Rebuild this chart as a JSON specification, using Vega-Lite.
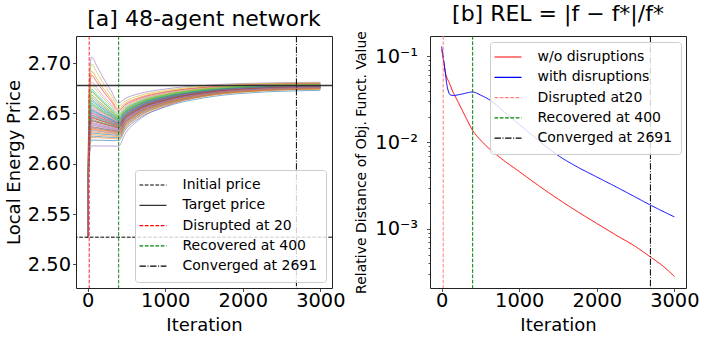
{
"$schema":"https://vega.github.io/schema/vega-lite/v6.json",
"padding":{"left":4,"top":2,"right":5,"bottom":2},
"bounds":"flush",
"spacing":98,
"config":{
 "font":"DejaVu Sans",
 "view":{"stroke":"#222","strokeWidth":1},
 "axis":{"domain":false,"grid":false,"tickColor":"#222","tickSize":3.5,"tickWidth":0.8,"labelColor":"black","labelFont":"DejaVu Sans","labelFontSize":19.4,"labelPadding":3,"titleFont":"DejaVu Sans","titleFontSize":18,"titleFontWeight":"normal","titleColor":"black"},
 "title":{"font":"DejaVu Sans","fontSize":22,"fontWeight":"normal","color":"black","offset":5},
 "legend":{"title":null,"orient":"none","symbolType":"M-2.1,0H3.3","symbolSize":100,"symbolStrokeWidth":1.2,"labelFont":"DejaVu Sans","labelFontSize":14,"labelColor":"black","labelOffset":25.5,"padding":8,"rowPadding":6.3,"fillColor":"rgba(255,255,255,0.8)","strokeColor":"#cccccc","cornerRadius":3}
},
"resolve":{"scale":{"color":"independent","strokeDash":"independent","x":"independent","y":"independent"}},
"hconcat":[
{
 "width":256,"height":252,
 "title":"[a] 48-agent network",
 "resolve":{"scale":{"color":"independent","strokeDash":"independent"}},
 "layer":[
  {
   "data":{"values":[
{"a":1,"t":0,"p":2.527},{"a":1,"t":20,"p":2.609},{"a":1,"t":50,"p":2.6235},{"a":1,"t":120,"p":2.6234},{"a":1,"t":200,"p":2.6233},{"a":1,"t":300,"p":2.6231},{"a":1,"t":400,"p":2.623},{"a":1,"t":480,"p":2.633},{"a":1,"t":650,"p":2.6445},{"a":1,"t":1000,"p":2.6565},{"a":1,"t":1500,"p":2.6655},{"a":1,"t":2000,"p":2.67},{"a":1,"t":3000,"p":2.673},
{"a":2,"t":0,"p":2.527},{"a":2,"t":20,"p":2.6673},{"a":2,"t":50,"p":2.692},{"a":2,"t":120,"p":2.6845},{"a":2,"t":200,"p":2.6752},{"a":2,"t":300,"p":2.6648},{"a":2,"t":400,"p":2.6547},{"a":2,"t":480,"p":2.6598},{"a":2,"t":650,"p":2.6656},{"a":2,"t":1000,"p":2.6717},{"a":2,"t":1500,"p":2.6762},{"a":2,"t":2000,"p":2.6785},{"a":2,"t":3000,"p":2.68},
{"a":3,"t":0,"p":2.527},{"a":3,"t":20,"p":2.6503},{"a":3,"t":50,"p":2.672},{"a":3,"t":120,"p":2.6671},{"a":3,"t":200,"p":2.661},{"a":3,"t":300,"p":2.6541},{"a":3,"t":400,"p":2.6475},{"a":3,"t":480,"p":2.6538},{"a":3,"t":650,"p":2.661},{"a":3,"t":1000,"p":2.6685},{"a":3,"t":1500,"p":2.6741},{"a":3,"t":2000,"p":2.6769},{"a":3,"t":3000,"p":2.6788},
{"a":4,"t":0,"p":2.527},{"a":4,"t":20,"p":2.6639},{"a":4,"t":50,"p":2.688},{"a":4,"t":120,"p":2.681},{"a":4,"t":200,"p":2.6723},{"a":4,"t":300,"p":2.6625},{"a":4,"t":400,"p":2.653},{"a":4,"t":480,"p":2.6584},{"a":4,"t":650,"p":2.6645},{"a":4,"t":1000,"p":2.671},{"a":4,"t":1500,"p":2.6758},{"a":4,"t":2000,"p":2.6782},{"a":4,"t":3000,"p":2.6798},
{"a":5,"t":0,"p":2.527},{"a":5,"t":20,"p":2.6792},{"a":5,"t":50,"p":2.706},{"a":5,"t":120,"p":2.6969},{"a":5,"t":200,"p":2.6856},{"a":5,"t":300,"p":2.6729},{"a":5,"t":400,"p":2.6606},{"a":5,"t":480,"p":2.6647},{"a":5,"t":650,"p":2.6694},{"a":5,"t":1000,"p":2.6743},{"a":5,"t":1500,"p":2.6779},{"a":5,"t":2000,"p":2.6798},{"a":5,"t":3000,"p":2.681},
{"a":6,"t":0,"p":2.527},{"a":6,"t":20,"p":2.6299},{"a":6,"t":50,"p":2.648},{"a":6,"t":120,"p":2.6462},{"a":6,"t":200,"p":2.644},{"a":6,"t":300,"p":2.6414},{"a":6,"t":400,"p":2.639},{"a":6,"t":480,"p":2.6466},{"a":6,"t":650,"p":2.6553},{"a":6,"t":1000,"p":2.6645},{"a":6,"t":1500,"p":2.6713},{"a":6,"t":2000,"p":2.6747},{"a":6,"t":3000,"p":2.677},
{"a":7,"t":0,"p":2.527},{"a":7,"t":20,"p":2.6452},{"a":7,"t":50,"p":2.666},{"a":7,"t":120,"p":2.6619},{"a":7,"t":200,"p":2.6568},{"a":7,"t":300,"p":2.651},{"a":7,"t":400,"p":2.6455},{"a":7,"t":480,"p":2.652},{"a":7,"t":650,"p":2.6596},{"a":7,"t":1000,"p":2.6674},{"a":7,"t":1500,"p":2.6733},{"a":7,"t":2000,"p":2.6762},{"a":7,"t":3000,"p":2.6782},
{"a":8,"t":0,"p":2.527},{"a":8,"t":20,"p":2.6231},{"a":8,"t":50,"p":2.64},{"a":8,"t":120,"p":2.6388},{"a":8,"t":200,"p":2.6373},{"a":8,"t":300,"p":2.6356},{"a":8,"t":400,"p":2.634},{"a":8,"t":480,"p":2.6424},{"a":8,"t":650,"p":2.6521},{"a":8,"t":1000,"p":2.6621},{"a":8,"t":1500,"p":2.6697},{"a":8,"t":2000,"p":2.6735},{"a":8,"t":3000,"p":2.676},
{"a":9,"t":0,"p":2.527},{"a":9,"t":20,"p":2.6732},{"a":9,"t":50,"p":2.699},{"a":9,"t":120,"p":2.6907},{"a":9,"t":200,"p":2.6802},{"a":9,"t":300,"p":2.6686},{"a":9,"t":400,"p":2.6573},{"a":9,"t":480,"p":2.6619},{"a":9,"t":650,"p":2.6673},{"a":9,"t":1000,"p":2.6728},{"a":9,"t":1500,"p":2.677},{"a":9,"t":2000,"p":2.6791},{"a":9,"t":3000,"p":2.6805},
{"a":10,"t":0,"p":2.527},{"a":10,"t":20,"p":2.652},{"a":10,"t":50,"p":2.674},{"a":10,"t":120,"p":2.6689},{"a":10,"t":200,"p":2.6626},{"a":10,"t":300,"p":2.6555},{"a":10,"t":400,"p":2.6487},{"a":10,"t":480,"p":2.6548},{"a":10,"t":650,"p":2.6617},{"a":10,"t":1000,"p":2.669},{"a":10,"t":1500,"p":2.6745},{"a":10,"t":2000,"p":2.6772},{"a":10,"t":3000,"p":2.679},
{"a":11,"t":0,"p":2.527},{"a":11,"t":20,"p":2.6418},{"a":11,"t":50,"p":2.662},{"a":11,"t":120,"p":2.6585},{"a":11,"t":200,"p":2.6542},{"a":11,"t":300,"p":2.6494},{"a":11,"t":400,"p":2.6447},{"a":11,"t":480,"p":2.6514},{"a":11,"t":650,"p":2.659},{"a":11,"t":1000,"p":2.667},{"a":11,"t":1500,"p":2.673},{"a":11,"t":2000,"p":2.676},{"a":11,"t":3000,"p":2.678},
{"a":12,"t":0,"p":2.527},{"a":12,"t":20,"p":2.6161},{"a":12,"t":50,"p":2.6318},{"a":12,"t":120,"p":2.6312},{"a":12,"t":200,"p":2.6305},{"a":12,"t":300,"p":2.6298},{"a":12,"t":400,"p":2.629},{"a":12,"t":480,"p":2.6382},{"a":12,"t":650,"p":2.6487},{"a":12,"t":1000,"p":2.6597},{"a":12,"t":1500,"p":2.6679},{"a":12,"t":2000,"p":2.6721},{"a":12,"t":3000,"p":2.6748},
{"a":13,"t":0,"p":2.527},{"a":13,"t":20,"p":2.6401},{"a":13,"t":50,"p":2.66},{"a":13,"t":120,"p":2.6568},{"a":13,"t":200,"p":2.6528},{"a":13,"t":300,"p":2.6483},{"a":13,"t":400,"p":2.644},{"a":13,"t":480,"p":2.6508},{"a":13,"t":650,"p":2.6586},{"a":13,"t":1000,"p":2.6667},{"a":13,"t":1500,"p":2.6728},{"a":13,"t":2000,"p":2.6759},{"a":13,"t":3000,"p":2.6779},
{"a":14,"t":0,"p":2.527},{"a":14,"t":20,"p":2.6277},{"a":14,"t":50,"p":2.6455},{"a":14,"t":120,"p":2.6439},{"a":14,"t":200,"p":2.6418},{"a":14,"t":300,"p":2.6395},{"a":14,"t":400,"p":2.6373},{"a":14,"t":480,"p":2.6452},{"a":14,"t":650,"p":2.6542},{"a":14,"t":1000,"p":2.6636},{"a":14,"t":1500,"p":2.6707},{"a":14,"t":2000,"p":2.6742},{"a":14,"t":3000,"p":2.6766},
{"a":15,"t":0,"p":2.527},{"a":15,"t":20,"p":2.6042},{"a":15,"t":50,"p":2.6178},{"a":15,"t":120,"p":2.6177},{"a":15,"t":200,"p":2.6177},{"a":15,"t":300,"p":2.6176},{"a":15,"t":400,"p":2.6175},{"a":15,"t":480,"p":2.6293},{"a":15,"t":650,"p":2.6429},{"a":15,"t":1000,"p":2.657},{"a":15,"t":1500,"p":2.6677},{"a":15,"t":2000,"p":2.673},{"a":15,"t":3000,"p":2.6765},
{"a":16,"t":0,"p":2.527},{"a":16,"t":20,"p":2.635},{"a":16,"t":50,"p":2.654},{"a":16,"t":120,"p":2.6515},{"a":16,"t":200,"p":2.6484},{"a":16,"t":300,"p":2.6449},{"a":16,"t":400,"p":2.6415},{"a":16,"t":480,"p":2.6487},{"a":16,"t":650,"p":2.6569},{"a":16,"t":1000,"p":2.6656},{"a":16,"t":1500,"p":2.672},{"a":16,"t":2000,"p":2.6753},{"a":16,"t":3000,"p":2.6774},
{"a":17,"t":0,"p":2.527},{"a":17,"t":20,"p":2.6579},{"a":17,"t":50,"p":2.681},{"a":17,"t":120,"p":2.6751},{"a":17,"t":200,"p":2.6677},{"a":17,"t":300,"p":2.6594},{"a":17,"t":400,"p":2.6514},{"a":17,"t":480,"p":2.657},{"a":17,"t":650,"p":2.6635},{"a":17,"t":1000,"p":2.6702},{"a":17,"t":1500,"p":2.6753},{"a":17,"t":2000,"p":2.6778},{"a":17,"t":3000,"p":2.6795},
{"a":18,"t":0,"p":2.527},{"a":18,"t":20,"p":2.6375},{"a":18,"t":50,"p":2.657},{"a":18,"t":120,"p":2.6542},{"a":18,"t":200,"p":2.6508},{"a":18,"t":300,"p":2.6469},{"a":18,"t":400,"p":2.6431},{"a":18,"t":480,"p":2.65},{"a":18,"t":650,"p":2.658},{"a":18,"t":1000,"p":2.6663},{"a":18,"t":1500,"p":2.6725},{"a":18,"t":2000,"p":2.6756},{"a":18,"t":3000,"p":2.6777},
{"a":19,"t":0,"p":2.527},{"a":19,"t":20,"p":2.6554},{"a":19,"t":50,"p":2.678},{"a":19,"t":120,"p":2.6724},{"a":19,"t":200,"p":2.6654},{"a":19,"t":300,"p":2.6576},{"a":19,"t":400,"p":2.65},{"a":19,"t":480,"p":2.6558},{"a":19,"t":650,"p":2.6626},{"a":19,"t":1000,"p":2.6696},{"a":19,"t":1500,"p":2.6748},{"a":19,"t":2000,"p":2.6775},{"a":19,"t":3000,"p":2.6792},
{"a":20,"t":0,"p":2.527},{"a":20,"t":20,"p":2.6333},{"a":20,"t":50,"p":2.652},{"a":20,"t":120,"p":2.6497},{"a":20,"t":200,"p":2.6469},{"a":20,"t":300,"p":2.6437},{"a":20,"t":400,"p":2.6406},{"a":20,"t":480,"p":2.6479},{"a":20,"t":650,"p":2.6563},{"a":20,"t":1000,"p":2.6651},{"a":20,"t":1500,"p":2.6717},{"a":20,"t":2000,"p":2.675},{"a":20,"t":3000,"p":2.6772},
{"a":21,"t":0,"p":2.527},{"a":21,"t":20,"p":2.6124},{"a":21,"t":50,"p":2.6275},{"a":21,"t":120,"p":2.6272},{"a":21,"t":200,"p":2.6267},{"a":21,"t":300,"p":2.6263},{"a":21,"t":400,"p":2.6258},{"a":21,"t":480,"p":2.6355},{"a":21,"t":650,"p":2.6467},{"a":21,"t":1000,"p":2.6584},{"a":21,"t":1500,"p":2.6671},{"a":21,"t":2000,"p":2.6715},{"a":21,"t":3000,"p":2.6744},
{"a":22,"t":0,"p":2.527},{"a":22,"t":20,"p":2.6113},{"a":22,"t":50,"p":2.6262},{"a":22,"t":120,"p":2.6259},{"a":22,"t":200,"p":2.6256},{"a":22,"t":300,"p":2.6252},{"a":22,"t":400,"p":2.6248},{"a":22,"t":480,"p":2.6347},{"a":22,"t":650,"p":2.646},{"a":22,"t":1000,"p":2.6579},{"a":22,"t":1500,"p":2.6668},{"a":22,"t":2000,"p":2.6712},{"a":22,"t":3000,"p":2.6742},
{"a":23,"t":0,"p":2.527},{"a":23,"t":20,"p":2.6469},{"a":23,"t":50,"p":2.668},{"a":23,"t":120,"p":2.6637},{"a":23,"t":200,"p":2.6583},{"a":23,"t":300,"p":2.6522},{"a":23,"t":400,"p":2.6464},{"a":23,"t":480,"p":2.6528},{"a":23,"t":650,"p":2.6602},{"a":23,"t":1000,"p":2.6679},{"a":23,"t":1500,"p":2.6737},{"a":23,"t":2000,"p":2.6766},{"a":23,"t":3000,"p":2.6785},
{"a":24,"t":0,"p":2.527},{"a":24,"t":20,"p":2.6316},{"a":24,"t":50,"p":2.65},{"a":24,"t":120,"p":2.6479},{"a":24,"t":200,"p":2.6454},{"a":24,"t":300,"p":2.6425},{"a":24,"t":400,"p":2.6397},{"a":24,"t":480,"p":2.6472},{"a":24,"t":650,"p":2.6558},{"a":24,"t":1000,"p":2.6648},{"a":24,"t":1500,"p":2.6715},{"a":24,"t":2000,"p":2.6749},{"a":24,"t":3000,"p":2.6771},
{"a":25,"t":0,"p":2.527},{"a":25,"t":20,"p":2.6218},{"a":25,"t":50,"p":2.6385},{"a":25,"t":120,"p":2.6374},{"a":25,"t":200,"p":2.6361},{"a":25,"t":300,"p":2.6346},{"a":25,"t":400,"p":2.6332},{"a":25,"t":480,"p":2.6417},{"a":25,"t":650,"p":2.6516},{"a":25,"t":1000,"p":2.6618},{"a":25,"t":1500,"p":2.6695},{"a":25,"t":2000,"p":2.6733},{"a":25,"t":3000,"p":2.6759},
{"a":26,"t":0,"p":2.527},{"a":26,"t":20,"p":2.6205},{"a":26,"t":50,"p":2.637},{"a":26,"t":120,"p":2.636},{"a":26,"t":200,"p":2.6348},{"a":26,"t":300,"p":2.6334},{"a":26,"t":400,"p":2.6321},{"a":26,"t":480,"p":2.6408},{"a":26,"t":650,"p":2.6509},{"a":26,"t":1000,"p":2.6613},{"a":26,"t":1500,"p":2.6692},{"a":26,"t":2000,"p":2.6731},{"a":26,"t":3000,"p":2.6757},
{"a":27,"t":0,"p":2.527},{"a":27,"t":20,"p":2.6362},{"a":27,"t":50,"p":2.6555},{"a":27,"t":120,"p":2.6529},{"a":27,"t":200,"p":2.6496},{"a":27,"t":300,"p":2.6459},{"a":27,"t":400,"p":2.6424},{"a":27,"t":480,"p":2.6494},{"a":27,"t":650,"p":2.6575},{"a":27,"t":1000,"p":2.6659},{"a":27,"t":1500,"p":2.6722},{"a":27,"t":2000,"p":2.6754},{"a":27,"t":3000,"p":2.6775},
{"a":28,"t":0,"p":2.527},{"a":28,"t":20,"p":2.6303},{"a":28,"t":50,"p":2.6485},{"a":28,"t":120,"p":2.6466},{"a":28,"t":200,"p":2.6442},{"a":28,"t":300,"p":2.6416},{"a":28,"t":400,"p":2.639},{"a":28,"t":480,"p":2.6466},{"a":28,"t":650,"p":2.6553},{"a":28,"t":1000,"p":2.6644},{"a":28,"t":1500,"p":2.6712},{"a":28,"t":2000,"p":2.6746},{"a":28,"t":3000,"p":2.6769},
{"a":29,"t":0,"p":2.527},{"a":29,"t":20,"p":2.6443},{"a":29,"t":50,"p":2.665},{"a":29,"t":120,"p":2.6611},{"a":29,"t":200,"p":2.6562},{"a":29,"t":300,"p":2.6508},{"a":29,"t":400,"p":2.6455},{"a":29,"t":480,"p":2.6521},{"a":29,"t":650,"p":2.6596},{"a":29,"t":1000,"p":2.6675},{"a":29,"t":1500,"p":2.6734},{"a":29,"t":2000,"p":2.6763},{"a":29,"t":3000,"p":2.6783},
{"a":30,"t":0,"p":2.527},{"a":30,"t":20,"p":2.629},{"a":30,"t":50,"p":2.647},{"a":30,"t":120,"p":2.6452},{"a":30,"t":200,"p":2.643},{"a":30,"t":300,"p":2.6405},{"a":30,"t":400,"p":2.6381},{"a":30,"t":480,"p":2.6458},{"a":30,"t":650,"p":2.6547},{"a":30,"t":1000,"p":2.664},{"a":30,"t":1500,"p":2.6709},{"a":30,"t":2000,"p":2.6744},{"a":30,"t":3000,"p":2.6767},
{"a":31,"t":0,"p":2.527},{"a":31,"t":20,"p":2.615},{"a":31,"t":50,"p":2.6305},{"a":31,"t":120,"p":2.63},{"a":31,"t":200,"p":2.6294},{"a":31,"t":300,"p":2.6288},{"a":31,"t":400,"p":2.6281},{"a":31,"t":480,"p":2.6375},{"a":31,"t":650,"p":2.6483},{"a":31,"t":1000,"p":2.6595},{"a":31,"t":1500,"p":2.668},{"a":31,"t":2000,"p":2.6722},{"a":31,"t":3000,"p":2.675},
{"a":32,"t":0,"p":2.527},{"a":32,"t":20,"p":2.6137},{"a":32,"t":50,"p":2.629},{"a":32,"t":120,"p":2.6286},{"a":32,"t":200,"p":2.6281},{"a":32,"t":300,"p":2.6275},{"a":32,"t":400,"p":2.627},{"a":32,"t":480,"p":2.6365},{"a":32,"t":650,"p":2.6475},{"a":32,"t":1000,"p":2.6589},{"a":32,"t":1500,"p":2.6675},{"a":32,"t":2000,"p":2.6717},{"a":32,"t":3000,"p":2.6746},
{"a":33,"t":0,"p":2.527},{"a":33,"t":20,"p":2.6265},{"a":33,"t":50,"p":2.644},{"a":33,"t":120,"p":2.6425},{"a":33,"t":200,"p":2.6406},{"a":33,"t":300,"p":2.6385},{"a":33,"t":400,"p":2.6365},{"a":33,"t":480,"p":2.6445},{"a":33,"t":650,"p":2.6537},{"a":33,"t":1000,"p":2.6633},{"a":33,"t":1500,"p":2.6705},{"a":33,"t":2000,"p":2.6741},{"a":33,"t":3000,"p":2.6765},
{"a":34,"t":0,"p":2.527},{"a":34,"t":20,"p":2.6252},{"a":34,"t":50,"p":2.6425},{"a":34,"t":120,"p":2.6411},{"a":34,"t":200,"p":2.6394},{"a":34,"t":300,"p":2.6375},{"a":34,"t":400,"p":2.6356},{"a":34,"t":480,"p":2.6437},{"a":34,"t":650,"p":2.6531},{"a":34,"t":1000,"p":2.6629},{"a":34,"t":1500,"p":2.6702},{"a":34,"t":2000,"p":2.6739},{"a":34,"t":3000,"p":2.6763},
{"a":35,"t":0,"p":2.527},{"a":35,"t":20,"p":2.6239},{"a":35,"t":50,"p":2.641},{"a":35,"t":120,"p":2.6398},{"a":35,"t":200,"p":2.6382},{"a":35,"t":300,"p":2.6365},{"a":35,"t":400,"p":2.6348},{"a":35,"t":480,"p":2.6431},{"a":35,"t":650,"p":2.6526},{"a":35,"t":1000,"p":2.6625},{"a":35,"t":1500,"p":2.67},{"a":35,"t":2000,"p":2.6737},{"a":35,"t":3000,"p":2.6762},
{"a":36,"t":0,"p":2.527},{"a":36,"t":20,"p":2.6192},{"a":36,"t":50,"p":2.6355},{"a":36,"t":120,"p":2.6347},{"a":36,"t":200,"p":2.6337},{"a":36,"t":300,"p":2.6325},{"a":36,"t":400,"p":2.6314},{"a":36,"t":480,"p":2.6402},{"a":36,"t":650,"p":2.6504},{"a":36,"t":1000,"p":2.661},{"a":36,"t":1500,"p":2.669},{"a":36,"t":2000,"p":2.673},{"a":36,"t":3000,"p":2.6756},
{"a":37,"t":0,"p":2.527},{"a":37,"t":20,"p":2.618},{"a":37,"t":50,"p":2.634},{"a":37,"t":120,"p":2.6333},{"a":37,"t":200,"p":2.6324},{"a":37,"t":300,"p":2.6315},{"a":37,"t":400,"p":2.6305},{"a":37,"t":480,"p":2.6395},{"a":37,"t":650,"p":2.6498},{"a":37,"t":1000,"p":2.6606},{"a":37,"t":1500,"p":2.6687},{"a":37,"t":2000,"p":2.6727},{"a":37,"t":3000,"p":2.6754},
{"a":38,"t":0,"p":2.527},{"a":38,"t":20,"p":2.6171},{"a":38,"t":50,"p":2.633},{"a":38,"t":120,"p":2.6324},{"a":38,"t":200,"p":2.6316},{"a":38,"t":300,"p":2.6307},{"a":38,"t":400,"p":2.6298},{"a":38,"t":480,"p":2.6389},{"a":38,"t":650,"p":2.6493},{"a":38,"t":1000,"p":2.6602},{"a":38,"t":1500,"p":2.6684},{"a":38,"t":2000,"p":2.6725},{"a":38,"t":3000,"p":2.6752},
{"a":39,"t":0,"p":2.527},{"a":39,"t":20,"p":2.6494},{"a":39,"t":50,"p":2.671},{"a":39,"t":120,"p":2.6663},{"a":39,"t":200,"p":2.6604},{"a":39,"t":300,"p":2.6539},{"a":39,"t":400,"p":2.6475},{"a":39,"t":480,"p":2.6537},{"a":39,"t":650,"p":2.6609},{"a":39,"t":1000,"p":2.6684},{"a":39,"t":1500,"p":2.674},{"a":39,"t":2000,"p":2.6768},{"a":39,"t":3000,"p":2.6787},
{"a":40,"t":0,"p":2.527},{"a":40,"t":20,"p":2.643},{"a":40,"t":50,"p":2.6635},{"a":40,"t":120,"p":2.6598},{"a":40,"t":200,"p":2.6552},{"a":40,"t":300,"p":2.65},{"a":40,"t":400,"p":2.645},{"a":40,"t":480,"p":2.6516},{"a":40,"t":650,"p":2.6592},{"a":40,"t":1000,"p":2.6672},{"a":40,"t":1500,"p":2.6731},{"a":40,"t":2000,"p":2.6761},{"a":40,"t":3000,"p":2.6781},
{"a":41,"t":0,"p":2.527},{"a":41,"t":20,"p":2.6341},{"a":41,"t":50,"p":2.653},{"a":41,"t":120,"p":2.6506},{"a":41,"t":200,"p":2.6476},{"a":41,"t":300,"p":2.6442},{"a":41,"t":400,"p":2.641},{"a":41,"t":480,"p":2.6483},{"a":41,"t":650,"p":2.6566},{"a":41,"t":1000,"p":2.6653},{"a":41,"t":1500,"p":2.6719},{"a":41,"t":2000,"p":2.6751},{"a":41,"t":3000,"p":2.6773},
{"a":42,"t":0,"p":2.527},{"a":42,"t":20,"p":2.6184},{"a":42,"t":50,"p":2.6345},{"a":42,"t":120,"p":2.6338},{"a":42,"t":200,"p":2.6329},{"a":42,"t":300,"p":2.632},{"a":42,"t":400,"p":2.631},{"a":42,"t":480,"p":2.6398},{"a":42,"t":650,"p":2.65},{"a":42,"t":1000,"p":2.6606},{"a":42,"t":1500,"p":2.6685},{"a":42,"t":2000,"p":2.6725},{"a":42,"t":3000,"p":2.6751},
{"a":43,"t":0,"p":2.527},{"a":43,"t":20,"p":2.6388},{"a":43,"t":50,"p":2.6585},{"a":43,"t":120,"p":2.6554},{"a":43,"t":200,"p":2.6515},{"a":43,"t":300,"p":2.6472},{"a":43,"t":400,"p":2.643},{"a":43,"t":480,"p":2.6499},{"a":43,"t":650,"p":2.6579},{"a":43,"t":1000,"p":2.6663},{"a":43,"t":1500,"p":2.6725},{"a":43,"t":2000,"p":2.6756},{"a":43,"t":3000,"p":2.6777},
{"a":44,"t":0,"p":2.527},{"a":44,"t":20,"p":2.6282},{"a":44,"t":50,"p":2.646},{"a":44,"t":120,"p":2.6444},{"a":44,"t":200,"p":2.6423},{"a":44,"t":300,"p":2.64},{"a":44,"t":400,"p":2.6378},{"a":44,"t":480,"p":2.6456},{"a":44,"t":650,"p":2.6545},{"a":44,"t":1000,"p":2.6638},{"a":44,"t":1500,"p":2.6708},{"a":44,"t":2000,"p":2.6743},{"a":44,"t":3000,"p":2.6766},
{"a":45,"t":0,"p":2.527},{"a":45,"t":20,"p":2.6324},{"a":45,"t":50,"p":2.651},{"a":45,"t":120,"p":2.6488},{"a":45,"t":200,"p":2.6461},{"a":45,"t":300,"p":2.6431},{"a":45,"t":400,"p":2.6402},{"a":45,"t":480,"p":2.6476},{"a":45,"t":650,"p":2.6561},{"a":45,"t":1000,"p":2.665},{"a":45,"t":1500,"p":2.6717},{"a":45,"t":2000,"p":2.675},{"a":45,"t":3000,"p":2.6772},
{"a":46,"t":0,"p":2.527},{"a":46,"t":20,"p":2.6256},{"a":46,"t":50,"p":2.643},{"a":46,"t":120,"p":2.6416},{"a":46,"t":200,"p":2.6399},{"a":46,"t":300,"p":2.6379},{"a":46,"t":400,"p":2.636},{"a":46,"t":480,"p":2.6441},{"a":46,"t":650,"p":2.6534},{"a":46,"t":1000,"p":2.6631},{"a":46,"t":1500,"p":2.6703},{"a":46,"t":2000,"p":2.674},{"a":46,"t":3000,"p":2.6764},
{"a":47,"t":0,"p":2.527},{"a":47,"t":20,"p":2.6222},{"a":47,"t":50,"p":2.639},{"a":47,"t":120,"p":2.6379},{"a":47,"t":200,"p":2.6365},{"a":47,"t":300,"p":2.635},{"a":47,"t":400,"p":2.6335},{"a":47,"t":480,"p":2.642},{"a":47,"t":650,"p":2.6517},{"a":47,"t":1000,"p":2.6619},{"a":47,"t":1500,"p":2.6695},{"a":47,"t":2000,"p":2.6734},{"a":47,"t":3000,"p":2.6759},
{"a":48,"t":0,"p":2.527},{"a":48,"t":20,"p":2.6201},{"a":48,"t":50,"p":2.6365},{"a":48,"t":120,"p":2.6357},{"a":48,"t":200,"p":2.6347},{"a":48,"t":300,"p":2.6336},{"a":48,"t":400,"p":2.6325},{"a":48,"t":480,"p":2.6412},{"a":48,"t":650,"p":2.6511},{"a":48,"t":1000,"p":2.6615},{"a":48,"t":1500,"p":2.6693},{"a":48,"t":2000,"p":2.6732},{"a":48,"t":3000,"p":2.6758}
   ]},
   "mark":{"type":"line","strokeWidth":0.7,"opacity":0.85,"interpolate":"monotone"},
   "encoding":{
    "x":{"field":"t","type":"quantitative","scale":{"domain":[-150,3150],"nice":false,"zero":false},"axis":{"values":[0,1000,2000,3000],"format":"d","title":"Iteration","titlePadding":7,"labelPadding":0}},
    "y":{"field":"p","type":"quantitative","scale":{"domain":[2.4765,2.727],"nice":false,"zero":false},"axis":{"values":[2.5,2.55,2.6,2.65,2.7],"format":".2f","title":"Local Energy Price","titlePadding":4,"labelPadding":2}},
    "color":{"field":"a","type":"nominal","legend":null,"scale":{"range":["#1f77b4","#ff7f0e","#2ca02c","#d62728","#9467bd","#8c564b","#e377c2","#7f7f7f","#bcbd22","#17becf"]}},
    "detail":{"field":"a","type":"nominal"}
   }
  },
  {
   "layer":[
    {
     "data":{"values":[{"s":"Initial price","p":2.527}]},
     "mark":{"type":"rule","strokeWidth":1},
     "encoding":{
      "y":{"field":"p","type":"quantitative","axis":{"title":"Local Energy Price"}},
      "color":{"field":"s","type":"nominal","scale":{"domain":["Initial price","Target price","Disrupted at 20","Recovered at 400","Converged at 2691"],"range":["#000000","#333333","#ff0000","#008000","#000000"]},"legend":{"legendX":59,"legendY":134}},
      "strokeDash":{"field":"s","type":"nominal","scale":{"domain":["Initial price","Target price","Disrupted at 20","Recovered at 400","Converged at 2691"],"range":[[3.7,1.6],[1,0],[3.7,1.6],[3.7,1.6],[6.4,1.6,1,1.6]]},"legend":{"legendX":59,"legendY":134}}
     }
    },
    {
     "data":{"values":[{"s":"Target price","p":2.6777}]},
     "mark":{"type":"rule","strokeWidth":1.5},
     "encoding":{
      "y":{"field":"p","type":"quantitative","axis":{"title":"Local Energy Price"}},
      "color":{"field":"s","type":"nominal"},
      "strokeDash":{"field":"s","type":"nominal"}
     }
    },
    {
     "data":{"values":[{"s":"Disrupted at 20","t":20},{"s":"Recovered at 400","t":400},{"s":"Converged at 2691","t":2691}]},
     "mark":{"type":"rule","strokeWidth":1},
     "encoding":{
      "x":{"field":"t","type":"quantitative","axis":{"title":"Iteration"}},
      "color":{"field":"s","type":"nominal"},
      "strokeDash":{"field":"s","type":"nominal"},
      "strokeWidth":{"field":"s","type":"nominal","legend":null,"scale":{"domain":["Disrupted at 20","Recovered at 400","Converged at 2691"],"range":[2,1,1]}},
      "opacity":{"field":"s","type":"nominal","legend":null,"scale":{"domain":["Disrupted at 20","Recovered at 400","Converged at 2691"],"range":[0.85,1,1]}}
     }
    }
   ]
  }
 ]
},
{
 "width":256,"height":252,
 "title":"[b] REL = |f − f*|/f*",
 "layer":[
  {
   "data":{"values":[
{"s":"w/o disruptions","t":0,"r":0.12},{"s":"w/o disruptions","t":20,"r":0.095},{"s":"w/o disruptions","t":47,"r":0.066},{"s":"w/o disruptions","t":100,"r":0.049},{"s":"w/o disruptions","t":150,"r":0.038},{"s":"w/o disruptions","t":200,"r":0.031},{"s":"w/o disruptions","t":300,"r":0.0205},{"s":"w/o disruptions","t":400,"r":0.0138},{"s":"w/o disruptions","t":500,"r":0.0107},{"s":"w/o disruptions","t":600,"r":0.0087},{"s":"w/o disruptions","t":800,"r":0.0062},{"s":"w/o disruptions","t":1000,"r":0.0046},{"s":"w/o disruptions","t":1250,"r":0.00316},{"s":"w/o disruptions","t":1500,"r":0.00221},{"s":"w/o disruptions","t":1750,"r":0.00158},{"s":"w/o disruptions","t":2000,"r":0.00115},{"s":"w/o disruptions","t":2250,"r":0.00084},{"s":"w/o disruptions","t":2500,"r":0.00062},{"s":"w/o disruptions","t":2691,"r":0.00047},{"s":"w/o disruptions","t":2850,"r":0.00037},{"s":"w/o disruptions","t":3000,"r":0.00028},
{"s":"with disruptions","t":0,"r":0.13},{"s":"with disruptions","t":35,"r":0.079},{"s":"with disruptions","t":69,"r":0.046},{"s":"with disruptions","t":111,"r":0.0358},{"s":"with disruptions","t":150,"r":0.0351},{"s":"with disruptions","t":250,"r":0.0363},{"s":"with disruptions","t":400,"r":0.0385},{"s":"with disruptions","t":500,"r":0.0355},{"s":"with disruptions","t":650,"r":0.0299},{"s":"with disruptions","t":800,"r":0.0229},{"s":"with disruptions","t":1000,"r":0.0162},{"s":"with disruptions","t":1200,"r":0.0115},{"s":"with disruptions","t":1350,"r":0.0089},{"s":"with disruptions","t":1519,"r":0.0069},{"s":"with disruptions","t":1750,"r":0.0052},{"s":"with disruptions","t":2000,"r":0.00398},{"s":"with disruptions","t":2250,"r":0.00305},{"s":"with disruptions","t":2500,"r":0.00232},{"s":"with disruptions","t":2691,"r":0.00188},{"s":"with disruptions","t":3000,"r":0.00137}
   ]},
   "mark":{"type":"line","strokeWidth":1,"interpolate":"monotone"},
   "encoding":{
    "x":{"field":"t","type":"quantitative","scale":{"domain":[-150,3150],"nice":false,"zero":false},"axis":{"values":[0,1000,2000,3000],"format":"d","title":"Iteration","titlePadding":7,"labelPadding":0}},
    "y":{"field":"r","type":"quantitative","scale":{"type":"log","domain":[0.000205,0.172],"nice":false},"axis":{"title":"Relative Distance of Obj. Funct. Value","titleFontSize":14,"titlePadding":6,"labelPadding":9,"values":[0.0003,0.0004,0.0005,0.0006,0.0007,0.0008,0.0009,0.001,0.002,0.003,0.004,0.005,0.006,0.007,0.008,0.009,0.01,0.02,0.03,0.04,0.05,0.06,0.07,0.08,0.09,0.1],"labelExpr":"datum.value == 0.1 ? '10⁻¹' : datum.value == 0.01 ? '10⁻²' : datum.value == 0.001 ? '10⁻³' : ''","tickSize":{"condition":{"test":"datum.value == 0.1 || datum.value == 0.01 || datum.value == 0.001","value":3.5},"value":2}}},
    "color":{"field":"s","type":"nominal","scale":{"domain":["w/o disruptions","with disruptions","Disrupted at20","Recovered at 400","Converged at 2691"],"range":["#ff0000","#0000ff","#ff8080","#008000","#000000"]},"legend":{"legendX":60,"legendY":6}},
    "strokeDash":{"field":"s","type":"nominal","scale":{"domain":["w/o disruptions","with disruptions","Disrupted at20","Recovered at 400","Converged at 2691"],"range":[[1,0],[1,0],[3.7,1.6],[3.7,1.6],[6.4,1.6,1,1.6]]},"legend":{"legendX":60,"legendY":6}}
   }
  },
  {
   "data":{"values":[{"s":"Disrupted at20","t":20},{"s":"Recovered at 400","t":400},{"s":"Converged at 2691","t":2691}]},
   "mark":{"type":"rule","strokeWidth":1},
   "encoding":{
    "x":{"field":"t","type":"quantitative","axis":{"title":"Iteration"}},
    "color":{"field":"s","type":"nominal"},
    "strokeDash":{"field":"s","type":"nominal"}
   }
  }
 ]
}
]
}
